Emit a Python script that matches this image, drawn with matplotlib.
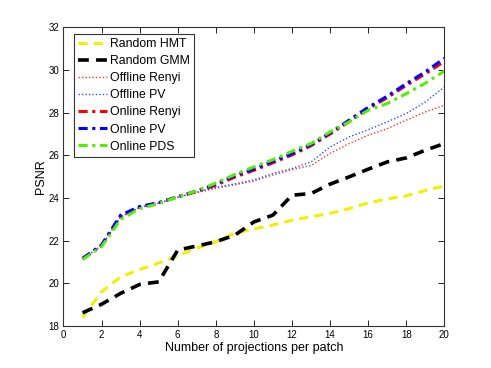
import numpy as np
import matplotlib
matplotlib.use("Agg")
import matplotlib.pyplot as plt

plt.rcParams["font.family"] = ["Liberation Sans", "DejaVu Sans"]

# number of projections per patch
proj = list(range(1, 21))

random_hmt = [18.4, 19.6, 20.3, 20.65, 20.95, 21.3, 21.65, 21.95, 22.35, 22.55,
              22.73, 22.96, 23.12, 23.28, 23.5, 23.77, 23.95, 24.1, 24.35, 24.57]
random_gmm = [18.62, 19.02, 19.53, 19.95, 20.07, 21.56, 21.75, 21.95, 22.26, 22.88,
              23.2, 24.13, 24.21, 24.65, 24.99, 25.35, 25.69, 25.88, 26.24, 26.55]
offline_renyi = [21.15, 21.75, 23.1, 23.55, 23.75, 24.03, 24.25, 24.45, 24.62, 24.8,
                 25.08, 25.33, 25.52, 26.09, 26.55, 26.94, 27.25, 27.65, 28.03, 28.35]
offline_pv = [21.15, 21.77, 23.12, 23.57, 23.76, 24.04, 24.27, 24.5, 24.66, 24.85,
              25.15, 25.38, 25.69, 26.39, 26.86, 27.2, 27.57, 27.96, 28.5, 29.2]
online_renyi = [21.15, 21.78, 23.15, 23.58, 23.77, 24.05, 24.3, 24.6, 24.98, 25.3,
                25.65, 26.02, 26.45, 27.0, 27.58, 28.18, 28.7, 29.28, 29.82, 30.4]
online_pv = [21.17, 21.8, 23.2, 23.6, 23.78, 24.06, 24.33, 24.65, 25.05, 25.36,
             25.72, 26.08, 26.5, 27.05, 27.65, 28.25, 28.77, 29.36, 29.91, 30.55]
online_pds = [21.12, 21.72, 23.0, 23.5, 23.74, 24.05, 24.33, 24.7, 25.1, 25.46,
              25.8, 26.19, 26.55, 27.1, 27.57, 28.11, 28.43, 28.89, 29.38, 29.95]

fig = plt.figure(figsize=(4.91, 3.68), dpi=100)
ax = fig.add_axes([0.1293, 0.1141, 0.7757, 0.8117])

ax.plot(proj, random_hmt, color="#f0f000", ls=(0, (3, 2)), lw=2.2, label="Random HMT")
ax.plot(proj, random_gmm, color="black", ls=(0, (3, 2)), lw=2.6, label="Random GMM")
ax.plot(proj, offline_renyi, color="#ff3030", ls=(0, (1, 1.5)), lw=1.0, label="Offline Renyi")
ax.plot(proj, offline_pv, color="#3050ff", ls=(0, (1, 1.5)), lw=1.0, label="Offline PV")
ax.plot(proj, online_renyi, color="red", ls=(0, (3, 1.5, 1, 1.5)), lw=2.2, label="Online Renyi")
ax.plot(proj, online_pv, color="blue", ls=(0, (3, 1.5, 1, 1.5)), lw=2.2, label="Online PV")
ax.plot(proj, online_pds, color="#55ee00", ls=(0, (3, 1.5, 1, 1.5)), lw=2.2, label="Online PDS")

ax.set_xlim(0, 20)
ax.set_ylim(18, 32)
ax.set_xticks(range(0, 21, 2))
ax.set_yticks(range(18, 33, 2))
ax.tick_params(direction="in", top=True, right=True, labelsize=7, length=4, width=0.6, pad=3)
for s in ax.spines.values():
    s.set_linewidth(0.8)
    s.set_color("#333333")

ax.set_xlabel("Number of projections per patch", fontsize=9, labelpad=1)
ax.set_ylabel("PSNR", fontsize=9, labelpad=1)

leg = ax.legend(loc="upper left", bbox_to_anchor=(0.028, 0.977), borderaxespad=0,
                fontsize=8.8, handlelength=2.3, handletextpad=0.25, labelspacing=0.41,
                fancybox=False, framealpha=1, borderpad=0.35)
leg.get_frame().set_edgecolor("#333333")
leg.get_frame().set_linewidth(0.8)

fig.savefig("out.png", dpi=100)
